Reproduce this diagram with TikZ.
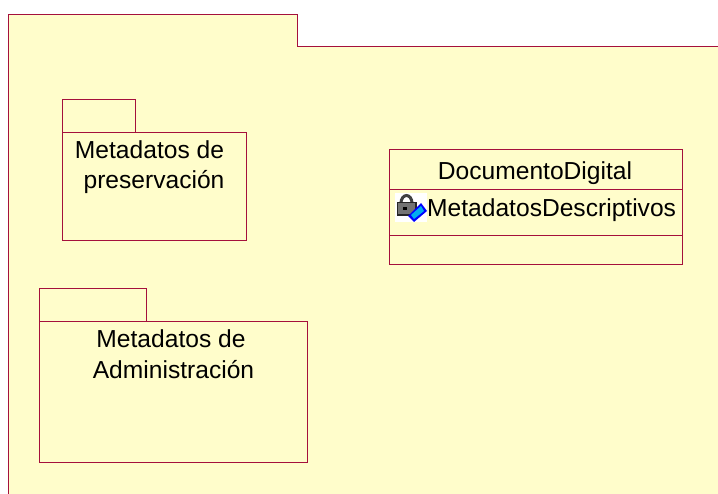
\documentclass[tikz,border=0pt]{standalone}
\usepackage{fontspec}
\setmainfont{Liberation Sans}
\definecolor{umlline}{HTML}{A5103C}
\definecolor{umlfill}{HTML}{FFFDCB}
\tikzset{
	umlbox/.style={draw=umlline,line width=1.2pt,fill=umlfill},
	umlrule/.style={draw=umlline,line width=1.2pt},
	umltext/.style={inner sep=0pt,font=\fontsize{24.6}{29}\selectfont,text=black,align=center}
}
\begin{document}
\begin{tikzpicture}[x=1pt,y=-1pt]
	\useasboundingbox (0,0) rectangle (718,494);
	\path[fill=umlfill] (8.5,14.5) -- (297.5,14.5) -- (297.5,46.5) -- (718,46.5) -- (718,494) -- (8.5,494) -- cycle;
	\draw[umlrule] (8.5,494) -- (8.5,14.5) -- (297.5,14.5) -- (297.5,46.5) -- (718,46.5);
	
	\draw[umlbox] (62.5,99.5) rectangle (135.5,132.5);
	\draw[umlbox] (62.5,132.5) rectangle (246.5,240.5);
	\node[umltext] (preservacion) at (149.5,150) {Metadatos de};
	\node[umltext] (preservacion2) at (154,182) {preservación};
	
	\draw[umlbox] (39.5,288.5) rectangle (146.5,321.5);
	\draw[umlbox] (39.5,321.5) rectangle (307.5,462.5);
	\node[umltext] (administracion) at (171,339) {Metadatos de};
	\node[umltext] (administracion2) at (173.5,370) {Administración};
	
	\draw[umlbox] (389.5,149.5) rectangle (682.5,264.5);
	\draw[umlrule] (389.5,189.5) -- (682.5,189.5);
	\draw[umlrule] (389.5,235.5) -- (682.5,235.5);
	\node[umltext] (clase) at (535,173) {DocumentoDigital};
	\node[umltext,anchor=west] (atributo) at (427,210) {MetadatosDescriptivos};
	
	\fill[white] (395,193) rectangle (427,222);
	\draw[line width=3pt,draw=black!75] (401,203) arc (180:360:5.5 and 7.5);
	\fill[black!55,draw=black!85,line width=1.2pt] (397.5,202.5) rectangle (416,215);
	\fill[black] (403,207) rectangle (407,210);
	\fill[blue] (408,216) -- (421,203) -- (427,211) -- (414,222) -- cycle;
	\fill[cyan] (411,215) -- (421,206) -- (424,211) -- (414,219) -- cycle;
\end{tikzpicture}
\end{document}
